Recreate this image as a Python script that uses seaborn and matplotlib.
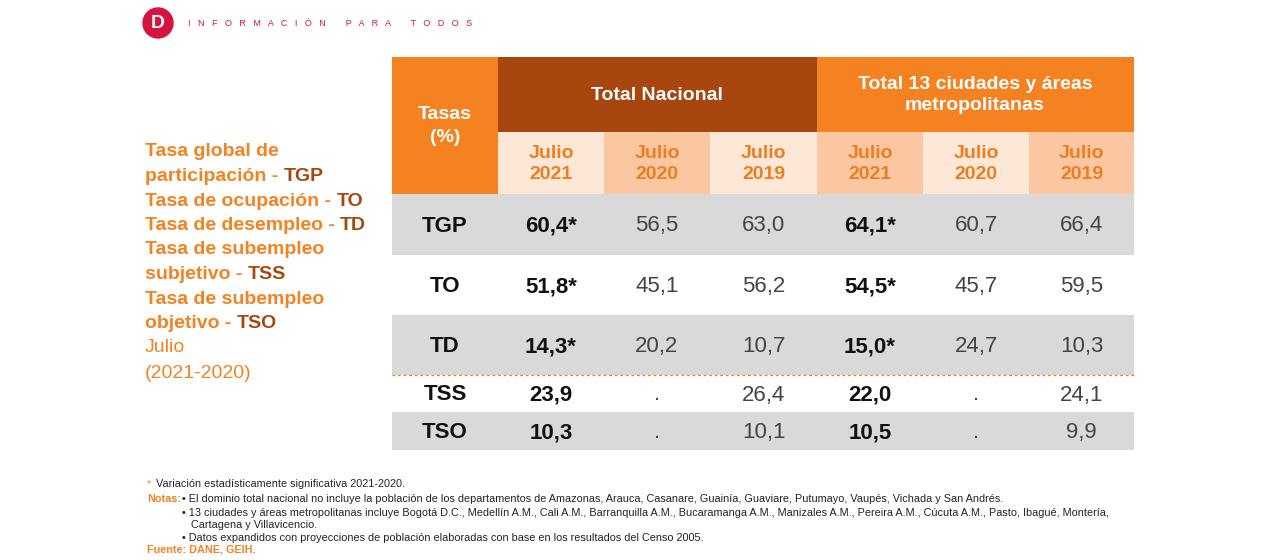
import matplotlib.pyplot as plt
from matplotlib.patches import Rectangle, Circle
import seaborn as sns

sns.set_style("white")
plt.rcParams['font.family'] = ['Liberation Sans', 'DejaVu Sans']

rates = ["TGP", "TO", "TD", "TSS", "TSO"]
periods = ["Julio\n2021", "Julio\n2020", "Julio\n2019"]
nacional = ["60,4*", "56,5", "63,0", "51,8*", "45,1", "56,2", "14,3*", "20,2", "10,7",
            "23,9", ".", "26,4", "10,3", ".", "10,1"]
ciudades = ["64,1*", "60,7", "66,4", "54,5*", "45,7", "59,5", "15,0*", "24,7", "10,3",
            "22,0", ".", "24,1", "10,5", ".", "9,9"]
legend_lines = [("Tasa global de", None), ("participación - ", "TGP"), ("Tasa de ocupación - ", "TO"),
                ("Tasa de desempleo - ", "TD"), ("Tasa de subempleo", None), ("subjetivo - ", "TSS"),
                ("Tasa de subempleo", None), ("objetivo - ", "TSO")]

ORANGE = "#F58220"
DARK = "#A8460F"
TXT = "#EE7D1E"
LIGHT = "#FDE7D6"
PEACH = "#FAC7A2"
GRAY = "#D9D9D9"

fig = plt.figure(figsize=(12.8, 5.6), dpi=100)
ax = fig.add_axes([0, 0, 1, 1])
ax.set_xlim(0, 1280)
ax.set_ylim(560, 0)
ax.axis("off")

# logo
ax.add_patch(Circle((158, 23), 15, color="#D6123F"))
ax.text(158, 24, "D", color="white", fontsize=14, fontweight="bold", ha="center", va="center")
ax.text(188, 24, "   ".join("INFORMACIÓN") + "        " + "   ".join("PARA") + "        " + "   ".join("TODOS"),
        color="#D6123F", fontsize=6.5, va="center")

xs = [392, 498, 604, 710, 817, 923, 1029, 1134]
# headers
ax.add_patch(Rectangle((392, 57), 106, 137, color=ORANGE, lw=0))
ax.text(445, 126, "Tasas\n(%)", color="white", fontsize=14, fontweight="bold", ha="center", va="center",
        linespacing=1.5)
ax.add_patch(Rectangle((498, 57), 319, 75, color=DARK, lw=0))
ax.text(657, 95, "Total Nacional", color="white", fontsize=14, fontweight="bold", ha="center", va="center")
ax.add_patch(Rectangle((817, 57), 317, 75, color=ORANGE, lw=0))
ax.text(975, 95, "Total 13 ciudades y áreas\nmetropolitanas", color="white", fontsize=14,
        fontweight="bold", ha="center", va="center", linespacing=1.3)
sub_colors = [LIGHT, PEACH, LIGHT, PEACH, LIGHT, PEACH]
for i in range(6):
    ax.add_patch(Rectangle((xs[i + 1], 132), xs[i + 2] - xs[i + 1], 62, color=sub_colors[i], lw=0))
    ax.text((xs[i + 1] + xs[i + 2]) / 2, 164, periods[i % 3], color=TXT, fontsize=14, fontweight="bold",
            ha="center", va="center", linespacing=1.3)

# body
row_y = [194, 255, 315, 375, 412, 450]
row_bg = [GRAY, "white", GRAY, "white", GRAY]
for r, rate in enumerate(rates):
    y0, y1 = row_y[r], row_y[r + 1]
    ax.add_patch(Rectangle((392, y0), 742, y1 - y0, color=row_bg[r], lw=0))
    yc = (y0 + y1) / 2 + 7
    ax.text(445, yc, rate, fontsize=16, fontweight="bold", ha="center", va="baseline", color="#111111")
    vals = nacional[r * 3:r * 3 + 3] + ciudades[r * 3:r * 3 + 3]
    for c, v in enumerate(vals):
        bold = c % 3 == 0
        ax.text((xs[c + 1] + xs[c + 2]) / 2, yc, v, fontsize=16, ha="center", va="baseline",
                fontweight="bold" if bold else "normal", color="#111111" if bold else "#444444")
ax.plot([392, 1134], [375, 375], color=ORANGE, lw=1, ls=(0, (2, 2)))

# left legend
y = 152
for text, code in legend_lines:
    t = ax.text(145, y, text, color=ORANGE, fontsize=14, fontweight="bold", va="center")
    if code:
        fig.canvas.draw()
        bb = t.get_window_extent()
        x1 = ax.transData.inverted().transform((bb.x1, bb.y0))[0]
        ax.text(x1, y, code, color=DARK, fontsize=14, fontweight="bold", va="center")
    y += 24.5
ax.text(145, y, "Julio", color=ORANGE, fontsize=14, va="center")
ax.text(145, y + 25, "(2021-2020)", color=ORANGE, fontsize=14, va="center")

# notes
ax.text(147, 484, "*", color=ORANGE, fontsize=7.8, va="center")
ax.text(156, 484, "Variación estadísticamente significativa 2021-2020.", fontsize=7.8, va="center")
ax.text(147, 499, "Notas:", color=ORANGE, fontsize=7.8, fontweight="bold", va="center")
notes = [(499, "• El dominio total nacional no incluye la población de los departamentos de Amazonas, Arauca, Casanare, Guainía, Guaviare, Putumayo, Vaupés, Vichada y San Andrés."),
         (513, "• 13 ciudades y áreas metropolitanas incluye Bogotá D.C., Medellín A.M., Cali A.M., Barranquilla A.M., Bucaramanga A.M., Manizales A.M., Pereira A.M., Cúcuta A.M., Pasto, Ibagué, Montería,"),
         (525, "   Cartagena y Villavicencio."),
         (538, "• Datos expandidos con proyecciones de población elaboradas con base en los resultados del Censo 2005.")]
for yy, s in notes:
    ax.text(182, yy, s, fontsize=7.8, va="center", color="#222222")
ax.text(147, 550, "Fuente: DANE, GEIH.", color=ORANGE, fontsize=7.8, fontweight="bold", va="center")

fig.savefig("out.png", dpi=100, facecolor="white")
